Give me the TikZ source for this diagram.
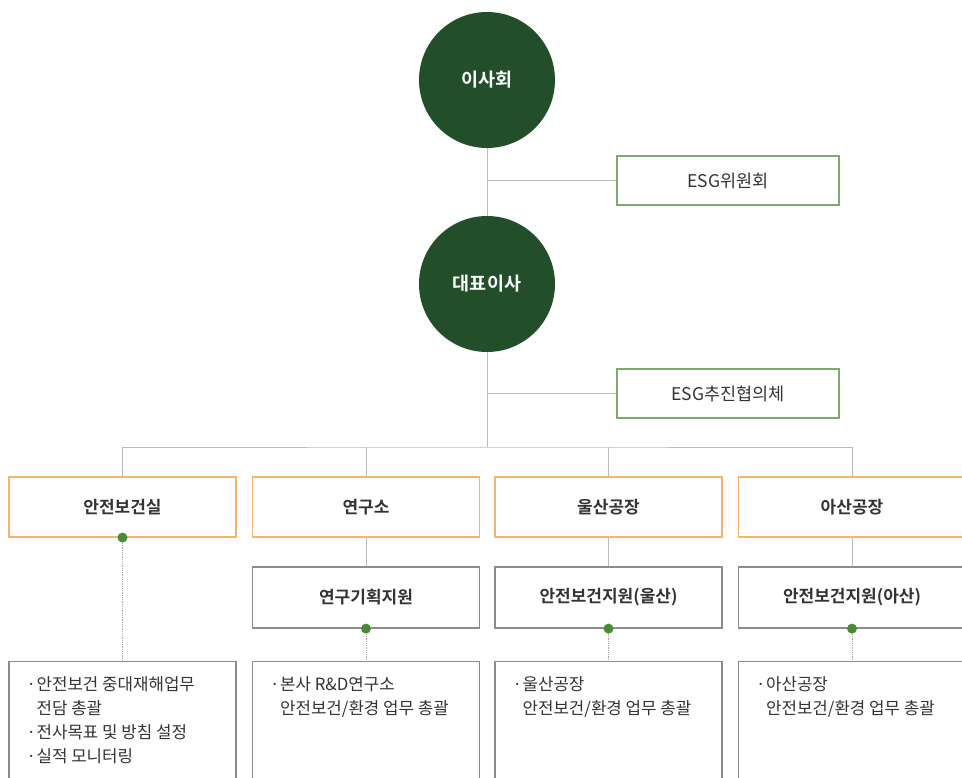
\documentclass[tikz,border=0pt]{standalone}
\usepackage{fontspec}
\setmainfont{Noto Sans CJK KR}[BoldFont={Noto Sans CJK KR Bold}]
\definecolor{boardgreen}{HTML}{224E29}
\definecolor{dotgreen}{HTML}{4A8A34}
\definecolor{esgline}{HTML}{7BAA6C}
\definecolor{unitline}{HTML}{F5B66B}
\definecolor{subline}{HTML}{8C8C8C}
\definecolor{linkgray}{HTML}{BBBBBB}
\definecolor{txt}{HTML}{333333}
\newcommand{\itm}{\makebox[10pt][l]{·}}
\begin{document}
\begin{tikzpicture}[x=1pt, y=-1pt,
		head/.style={circle, fill=boardgreen, minimum size=136pt, inner sep=0pt, text=white, font=\fontsize{18.5}{22}\selectfont\bfseries},
		esgbox/.style={draw=esgline, line width=1.2pt, minimum width=222pt, minimum height=49pt, text=txt, font=\fontsize{17.5}{20}\selectfont},
		unitbox/.style={draw=unitline, line width=1.2pt, minimum width=227pt, minimum height=60pt, text=txt, font=\fontsize{17}{20}\selectfont\bfseries},
		subbox/.style={draw=subline, line width=1.2pt, minimum width=227pt, minimum height=61pt, text=txt, font=\fontsize{17}{20}\selectfont\bfseries},
		taskbox/.style={draw=subline, line width=1.2pt, minimum width=227pt, minimum height=140pt, anchor=north},
		tasktext/.style={anchor=north west, align=left, inner sep=0pt, text=txt, font=\fontsize{16.8}{24}\selectfont},
		link/.style={draw=linkgray, line width=1pt},
		dotlink/.style={draw=subline!80, densely dotted, line width=0.8pt},
		knob/.style={circle, fill=dotgreen, minimum size=10pt, inner sep=0pt}]
	\useasboundingbox (0,0) rectangle (962,778);
	\clip (0,0) rectangle (962,778);
	% top of the chart
	\node[head] (board) at (487,80) {이사회};
	\node[head] (ceo) at (487,284) {대표이사};
	\node[esgbox] (esgc) at (728,180.5) {ESG위원회};
	\node[esgbox] (esgp) at (728,393.5) {ESG추진협의체};
	\coordinate (j1) at (487,180.5);
	\coordinate (j2) at (487,393.5);
	\coordinate (bus) at (487,447);
	\draw[link] (board.south) -- (ceo.north);
	\draw[link] (j1) -- (esgc.west);
	\draw[link] (ceo.south) -- (bus);
	\draw[link] (j2) -- (esgp.west);
	% units
	\node[unitbox] (u1) at (122.5,507) {안전보건실};
	\node[unitbox] (u2) at (366,507) {연구소};
	\node[unitbox] (u3) at (608.5,507) {울산공장};
	\node[unitbox] (u4) at (852,507) {아산공장};
	\draw[link] (u1.north) |- (bus) -| (u4.north);
	\draw[link] (u2.north) -- (u2.north |- bus);
	\draw[link] (u3.north) -- (u3.north |- bus);
	% support teams
	\node[subbox] (s2) at (366,597.5) {연구기획지원};
	\node[subbox] (s3) at (608.5,597.5) {안전보건지원(울산)};
	\node[subbox] (s4) at (852,597.5) {안전보건지원(아산)};
	\foreach \i in {2,3,4}
		\draw[link] (u\i.south) -- (s\i.north);
	% tasks
	\node[taskbox] (t1) at (122.5,661) {};
	\node[taskbox] (t2) at (366,661) {};
	\node[taskbox] (t3) at (608.5,661) {};
	\node[taskbox] (t4) at (852,661) {};
	\draw[dotlink] (u1.south) -- (t1.north);
	\foreach \i in {2,3,4}
		\draw[dotlink] (s\i.south) -- (t\i.north);
	\node[knob] (k1) at (u1.south) {};
	\foreach \i in {2,3,4}
		\node[knob] (k\i) at (s\i.south) {};
	\node[tasktext] (x1) at ([xshift=18pt, yshift=-15pt]t1.north west) {\itm 안전보건 중대재해업무\\\hspace{10pt}전담 총괄\\\itm 전사목표 및 방침 설정\\\itm 실적 모니터링};
	\node[tasktext] (x2) at ([xshift=18pt, yshift=-15pt]t2.north west) {\itm 본사 R\&D연구소\\\hspace{10pt}안전보건/환경 업무 총괄};
	\node[tasktext] (x3) at ([xshift=18pt, yshift=-15pt]t3.north west) {\itm 울산공장\\\hspace{10pt}안전보건/환경 업무 총괄};
	\node[tasktext] (x4) at ([xshift=18pt, yshift=-15pt]t4.north west) {\itm 아산공장\\\hspace{10pt}안전보건/환경 업무 총괄};
\end{tikzpicture}
\end{document}
